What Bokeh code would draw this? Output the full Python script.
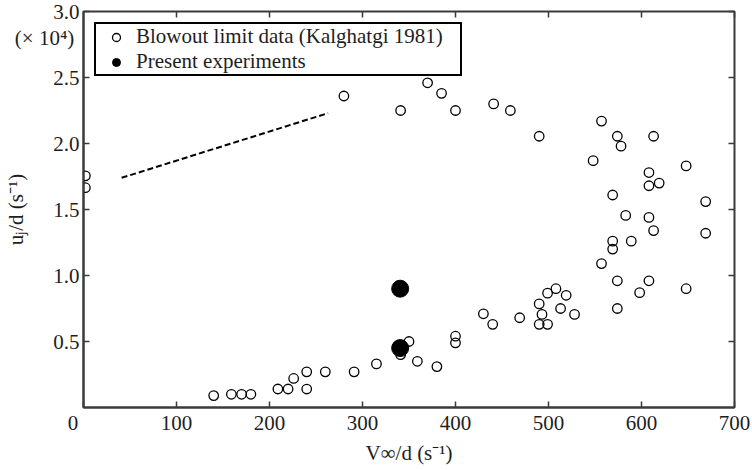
from bokeh.plotting import figure
from bokeh.models import Range1d, LinearAxis, FixedTicker, Legend, LegendItem, CustomJSTickFormatter
from bokeh.embed import file_html
from bokeh.resources import INLINE

# ---------------- data (V_inf/d in 1/s ; u_j/d in 1e4 1/s) ----------------
blowout_x = [2, 2,
             140, 159, 170, 180, 209, 220, 240, 226, 240, 260, 291, 315,
             341, 350, 359, 380, 400, 400, 430, 440, 469, 490, 490, 499,
             493, 499, 508, 519, 513, 528, 557, 574, 574, 598, 608, 648,
             569, 569, 589, 613, 608, 583, 569, 608, 619, 608, 548, 648,
             669, 669, 490, 557, 574, 578, 613, 441, 459, 400, 385, 370,
             341, 280]
blowout_y = [1.755, 1.665,
             0.09, 0.10, 0.10, 0.10, 0.14, 0.14, 0.14, 0.22, 0.27, 0.27, 0.27, 0.33,
             0.40, 0.50, 0.35, 0.31, 0.54, 0.49, 0.71, 0.63, 0.68, 0.785, 0.63, 0.63,
             0.705, 0.866, 0.90, 0.85, 0.75, 0.705, 1.09, 0.96, 0.75, 0.87, 0.96, 0.90,
             1.20, 1.26, 1.26, 1.34, 1.44, 1.455, 1.61, 1.68, 1.70, 1.78, 1.87, 1.83,
             1.56, 1.32, 2.055, 2.17, 2.055, 1.98, 2.055, 2.30, 2.25, 2.25, 2.38, 2.46,
             2.25, 2.36]
present_x = [340.5, 340.5]
present_y = [0.90, 0.45]
trend_x = [41, 263]
trend_y = [1.74, 2.23]

x_ticks = [0, 100, 200, 300, 400, 500, 600, 700]
x_tick_labels = ["0\u00a0\u00a0\u00a0\u00a0", "100", "200", "300", "400", "500", "600", "700"]
y_ticks = [0.5, 1.0, 1.5, 2.0, 2.5, 3.0]
y_tick_labels = ["0.5", "1.0", "1.5", "2.0", "2.5", "3.0"]
y_scale_pos = 2.80
y_scale_label = "(\u00d7 10\u2074)\u00a0"

x_title = "V\u221e/d (s\u207b\u00b9)"
y_title = "u\u2c7c/d (s\u207b\u00b9)"
legend_labels = ["Blowout limit data (Kalghatgi 1981)", "Present experiments"]

# ---------------- styling ----------------
FONT = "Liberation Serif"
AX = "#3a3a3a"
TXT = "#1e1e1e"
FS = "21px"
FL, FT, FR, FB = 82, 11, 734, 407  # frame edges in canvas px

p = figure(width=752, height=470, output_backend="svg", toolbar_location=None,
           x_range=Range1d(0, 700), y_range=Range1d(0, 3.0),
           min_border_left=FL, min_border_right=752 - FR,
           min_border_top=FT, min_border_bottom=470 - FB)
p.grid.visible = False
p.background_fill_color = "white"
p.border_fill_color = "white"
p.outline_line_color = AX
p.outline_line_width = 2
p.outline_line_alpha = 1.0

# bottom axis
xa = p.xaxis[0]
xa.ticker = FixedTicker(ticks=x_ticks, minor_ticks=[])
xa.major_label_overrides = dict(zip(x_ticks, x_tick_labels))
xa.major_tick_in = 6
xa.major_tick_out = 0
xa.major_label_standoff = 3
xa.axis_label = x_title
xa.axis_label_standoff = 3

# left axis: labelled majors (incl. the scale note), tick marks drawn as minors
ya = p.yaxis[0]
ya.ticker = FixedTicker(ticks=y_ticks + [y_scale_pos], minor_ticks=y_ticks)
ya.major_label_overrides = dict(zip(y_ticks + [y_scale_pos], y_tick_labels + [y_scale_label]))
ya.major_tick_in = 0
ya.major_tick_out = 0
ya.major_tick_line_color = None
ya.minor_tick_in = 6
ya.minor_tick_out = 0
ya.major_label_standoff = 4
ya.axis_label = y_title
ya.axis_label_standoff = -16

for ax in (xa, ya):
    ax.axis_line_color = AX
    ax.axis_line_width = 2
    ax.major_label_text_font = FONT
    ax.major_label_text_font_size = FS
    ax.major_label_text_color = TXT
    ax.axis_label_text_font = FONT
    ax.axis_label_text_font_size = FS
    ax.axis_label_text_font_style = "normal"
    ax.axis_label_text_color = TXT
xa.major_tick_line_color = AX
xa.major_tick_line_width = 1.5
xa.minor_tick_line_color = None
ya.minor_tick_line_color = AX
ya.minor_tick_line_width = 1.5

blank = CustomJSTickFormatter(code="return ''")
top = LinearAxis(ticker=FixedTicker(ticks=x_ticks[1:], minor_ticks=[]), formatter=blank,
                 axis_line_color=None, major_tick_in=6, major_tick_out=0,
                 major_tick_line_color=AX, major_tick_line_width=1.5,
                 minor_tick_line_color=None, major_label_text_font_size="0px",
                 major_label_standoff=0)
right = LinearAxis(ticker=FixedTicker(ticks=y_ticks, minor_ticks=[]), formatter=blank,
                   axis_line_color=None, major_tick_in=6, major_tick_out=0,
                   major_tick_line_color=AX, major_tick_line_width=1.5,
                   minor_tick_line_color=None, major_label_text_font_size="0px",
                   major_label_standoff=0)
p.add_layout(top, "above")
p.add_layout(right, "right")

# ---------------- glyphs ----------------
p.line(trend_x, trend_y, line_color="black", line_width=2, line_dash="6 3")
r_open = p.scatter(blowout_x, blowout_y, marker="circle", size=9.5,
                   fill_color="white", fill_alpha=0.0, line_color="black", line_width=1.3)
r_fill = p.scatter(present_x, present_y, marker="circle", size=17,
                   fill_color="black", line_color="black")

legend = Legend(items=[LegendItem(label=legend_labels[0], renderers=[r_open]),
                       LegendItem(label=legend_labels[1], renderers=[r_fill])],
                location=(11, FB - 76), orientation="vertical",
                border_line_color="black", border_line_width=2, border_line_alpha=1.0,
                background_fill_color="white", background_fill_alpha=1.0,
                padding=0, spacing=-9, margin=0, glyph_width=40, glyph_height=20,
                label_height=20, label_width=324, label_standoff=0,
                label_text_font=FONT, label_text_font_size=FS, label_text_color=TXT)
p.add_layout(legend)

open("out.html", "w").write(file_html(p, INLINE))
